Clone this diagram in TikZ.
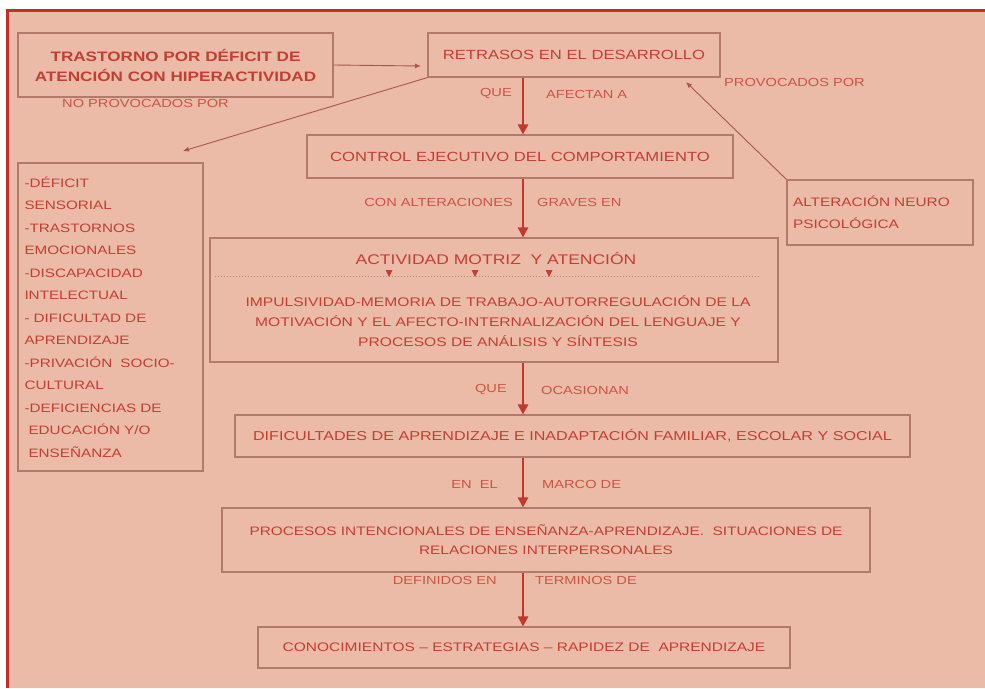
\documentclass[tikz,border=0pt]{standalone}
\usepackage{fontspec}
\setmainfont{Liberation Sans}[FakeStretch=1.25]
\usetikzlibrary{arrows.meta,calc}
\definecolor{bg}{HTML}{EBBBA8}
\definecolor{framered}{HTML}{C0302A}
\definecolor{boxline}{HTML}{B27A6A}
\definecolor{txt}{HTML}{C23F33}
\definecolor{lbl}{HTML}{CC5444}
\definecolor{arr}{HTML}{BF3A2C}
\definecolor{thinline}{HTML}{A8574C}
\definecolor{dotcol}{HTML}{B08E84}
\begin{document}
\begin{tikzpicture}[x=1pt,y=-1pt,
  box/.style={draw=boxline,line width=1.1pt,inner sep=0pt,text=txt,align=center},
  lab/.style={text=lbl,inner sep=0pt,font=\fontsize{11.7}{14}\selectfont},
  mainarrow/.style={draw=arr,line width=2.6pt,-{Triangle[length=10pt,width=10pt]}},
  thinarrow/.style={draw=thinline,line width=0.9pt,-{Latex[length=6pt,width=5pt]}}]
\useasboundingbox (0,0) rectangle (985,688);
\fill[white] (0,0) rectangle (985,688);
\fill[bg] (7,10) rectangle (985,688);
\draw[framered,line width=3pt] (7.5,688) -- (7.5,10.5) -- (985,10.5);

% boxes
\node[box,minimum width=315pt,minimum height=64pt,font=\bfseries\fontsize{13.7}{20}\selectfont] (tdah) at (175.5,65) {TRASTORNO POR DÉFICIT DE\\ATENCIÓN CON HIPERACTIVIDAD};
\node[box,minimum width=292pt,minimum height=44pt,font=\fontsize{13.3}{16}\selectfont] (retr) at (574,55) {RETRASOS EN EL DESARROLLO};
\node[box,minimum width=426pt,minimum height=43pt,font=\fontsize{13.3}{16}\selectfont] (ctrl) at (520,156.5) {CONTROL EJECUTIVO DEL COMPORTAMIENTO};
\node[box,minimum width=568pt,minimum height=124pt] (act) at (494,300) {};
\node[text=txt,inner sep=0pt,font=\fontsize{14}{16}\selectfont] (acttitle) at (496,258) {ACTIVIDAD MOTRIZ\ \ Y ATENCIÓN};
\node[text=txt,inner sep=0pt,align=center,font=\fontsize{12.5}{20}\selectfont] (actbody) at (498,321) {IMPULSIVIDAD-MEMORIA DE TRABAJO-AUTORREGULACIÓN DE LA\\MOTIVACIÓN Y EL AFECTO-INTERNALIZACIÓN DEL LENGUAJE Y\\PROCESOS DE ANÁLISIS Y SÍNTESIS};
\node[box,minimum width=185pt,minimum height=308pt,text width=172pt,align=left,font=\fontsize{12.2}{22.5}\selectfont] (left) at (110.5,317) {-DÉFICIT\\SENSORIAL\\-TRASTORNOS\\EMOCIONALES\\-DISCAPACIDAD\\INTELECTUAL\\- DIFICULTAD DE\\APRENDIZAJE\\-PRIVACIÓN\ \ SOCIO-\\CULTURAL\\-DEFICIENCIAS DE\\\ EDUCACIÓN Y/O\\\ ENSEÑANZA};
\node[box,minimum width=186pt,minimum height=65pt,text width=174pt,align=left,font=\fontsize{12.3}{22}\selectfont] (alt) at (880,212.5) {ALTERACIÓN NEURO\\PSICOLÓGICA};
\node[box,minimum width=675pt,minimum height=42pt,font=\fontsize{12.9}{16}\selectfont] (dif) at (572.5,436) {DIFICULTADES DE APRENDIZAJE E INADAPTACIÓN FAMILIAR, ESCOLAR Y SOCIAL};
\node[box,minimum width=648pt,minimum height=64pt,font=\fontsize{12.3}{19}\selectfont] (proc) at (546,540) {PROCESOS INTENCIONALES DE ENSEÑANZA-APRENDIZAJE.\ \ SITUACIONES DE\\RELACIONES INTERPERSONALES};
\node[box,minimum width=532pt,minimum height=41pt,font=\fontsize{12.4}{16}\selectfont] (con) at (524,647.5) {CONOCIMIENTOS -- ESTRATEGIAS -- RAPIDEZ DE\ \ APRENDIZAJE};

% dotted separator with markers
\draw[dotcol,line width=1pt,dotted] (act.west |- 0,276) ++(6,0) coordinate (dotA) -- (760,276) coordinate (dotB);
\foreach \tx in {389,475,549}{
  \fill[txt] (\tx-3.5,270) -- (\tx+3.5,270) -- (\tx,277) -- cycle;
}

% spine
\coordinate (spine) at (523,0);
\draw[mainarrow] (retr.south -| spine) -- (ctrl.north -| spine);
\draw[mainarrow] (ctrl.south -| spine) -- (act.north -| spine);
\draw[mainarrow] (act.south -| spine) -- (dif.north -| spine);
\draw[mainarrow] (dif.south -| spine) -- (proc.north -| spine);
\draw[mainarrow] (proc.south -| spine) -- (con.north -| spine);

% thin arrows
\coordinate (tipA) at (183,151);
\coordinate (tipB) at (686,82);
\coordinate (tipC) at (421,66);
\draw[thinarrow] (tdah.east) -- (tipC);
\draw[thinarrow] (retr.south west) -- (tipA);
\draw[thinarrow] (alt.north west) -- (tipB);

% labels
\node[lab,anchor=west] (l6) at (62,103) {NO PROVOCADOS POR};
\node[lab,anchor=west] (l7) at (724,82) {PROVOCADOS POR};
\node[lab,anchor=east] (l1a) at (512,94) {QUE};
\node[lab,anchor=west] (l1b) at (546,94) {AFECTAN A};
\node[lab,anchor=east] (l2a) at (513,202) {CON ALTERACIONES};
\node[lab,anchor=west] (l2b) at (537,202) {GRAVES EN};
\node[lab,anchor=east] (l3a) at (507,390) {QUE};
\node[lab,anchor=west] (l3b) at (541,390) {OCASIONAN};
\node[lab,anchor=east] (l4a) at (498,484) {EN\ \ EL};
\node[lab,anchor=west] (l4b) at (542,484) {MARCO DE};
\node[lab,anchor=east] (l5a) at (497,580) {DEFINIDOS EN};
\node[lab,anchor=west] (l5b) at (535,580) {TERMINOS DE};
\end{tikzpicture}
\end{document}
